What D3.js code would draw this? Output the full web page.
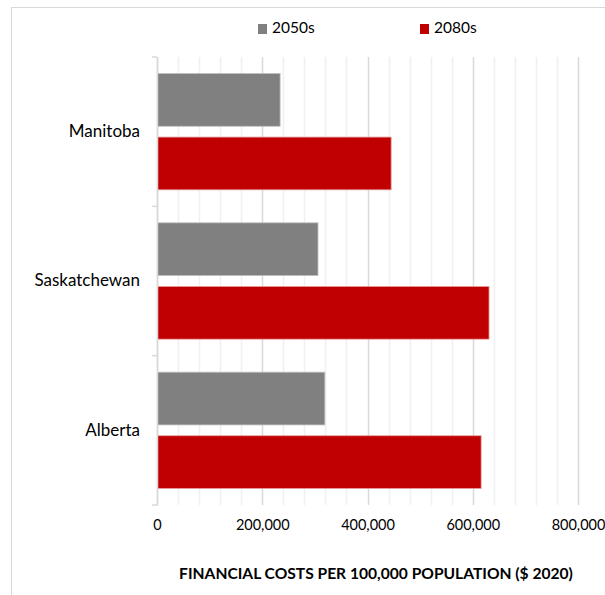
<!doctype html>
<html>
  <head>
    <script src="https://d3js.org/d3.v7.min.js"></script>
    <style>
      body { margin: 0; background: #fff; }
    </style>
  </head>
  <body>
    <script>
    var provinces = ["Manitoba", "Saskatchewan", "Alberta"];
    var series = ["2050s", "2080s"];
    var costs2050s = [233000, 305000, 318000];
    var costs2080s = [444000, 630000, 615000];
    var xTicks = [0, 200000, 400000, 600000, 800000];

    var width = 605;
    var height = 595;

    var margin = {
      top: 57,
      right: 27,
      bottom: 90,
      left: 157
    };

    var innerWidth = width - margin.left - margin.right;
    var innerHeight = height - margin.top - margin.bottom;

    var fontFamily = "Lato, 'Open Sans', sans-serif";

    var data = provinces.map(function(p, i) {
      return {province: p, values: [
        {key: "2050s", value: costs2050s[i]},
        {key: "2080s", value: costs2080s[i]}
      ]};
    });

    var svg = d3.select("body")
              .append("svg")
              .attr("width", width)
              .attr("height", height);

//chart border
    svg
      .append("rect")
      .attr("x", 11.5)
      .attr("y", 7.5)
      .attr("width", width + 20)
      .attr("height", height + 20)
      .attr("fill", "none")
      .attr("stroke", "#d9d9d9");

    var g = svg
            .append("g")
            .attr("transform", "translate(" + margin.left + "," + margin.top + ")");

//Construct scales
    var xScale = d3
                  .scaleLinear()
                  .domain([0, 800000])
                  .range([0, innerWidth]);

    var yScale = d3
                  .scaleBand()
                  .domain(provinces)
                  .range([0, innerHeight]);

    var ySeries = d3
                  .scaleBand()
                  .domain(series)
                  .range([16.5, yScale.bandwidth() - 16.5])
                  .paddingInner(0.17);

    var colorScale = d3.scaleOrdinal()
                      .domain(series)
                      .range(["#808080", "#c00000"]);

    var strokeScale = d3.scaleOrdinal()
                      .domain(series)
                      .range(["#bfbfbf", "#e8a0a0"]);

//gridlines
    g.append("g")
      .selectAll("line")
      .data(d3.range(0, 800001, 40000))
      .enter()
        .append("line")
        .attr("x1", function(d) {return Math.round(xScale(d)) + 0.5;})
        .attr("x2", function(d) {return Math.round(xScale(d)) + 0.5;})
        .attr("y1", 0)
        .attr("y2", innerHeight)
        .attr("stroke", function(d) {return d % 200000 === 0 ? "#d9d9d9" : "#f0f0f0";})
        .attr("stroke-width", 1.5);

//bars
    var groups = g.selectAll(".group")
                .data(data)
                .enter()
                  .append("g")
                  .attr("class", "group")
                  .attr("transform", function(d) {return "translate(0," + yScale(d.province) + ")";});

    groups.selectAll("rect")
      .data(function(d) {return d.values;})
      .enter()
        .append("rect")
        .attr("x", xScale(0) + 0.5)
        .attr("y", function(d) {return ySeries(d.key);})
        .attr("width", function(d) {return xScale(d.value) - xScale(0);})
        .attr("height", ySeries.bandwidth())
        .attr("fill", function(d) {return colorScale(d.key);})
        .attr("stroke", function(d) {return strokeScale(d.key);})
        .attr("stroke-width", 0.8);

//y axis
    var yAxis = d3.axisLeft(yScale)
                  .tickSize(0)
                  .tickPadding(17);

    var yAxisG = g
      .append("g")
      .call(yAxis);

    yAxisG.select(".domain")
      .attr("stroke", "#d9d9d9")
      .attr("stroke-width", 1.5);

    yAxisG.selectAll("text")
      .attr("font-family", fontFamily)
      .style("font-size", "17px")
      .attr("fill", "#000");

    g.append("g")
      .selectAll("line")
      .data([0, innerHeight / 3, innerHeight * 2 / 3, innerHeight])
      .enter()
        .append("line")
        .attr("x1", -5)
        .attr("x2", 0)
        .attr("y1", function(d) {return d;})
        .attr("y2", function(d) {return d;})
        .attr("stroke", "#d9d9d9")
        .attr("stroke-width", 1.5);

//x axis
    var xAxis = d3.axisBottom(xScale)
                  .tickValues(xTicks)
                  .tickSize(0)
                  .tickPadding(15)
                  .tickFormat(d3.format(","));

    var xAxisG = g
      .append("g")
      .attr("transform", "translate(0," + innerHeight + ")")
      .call(xAxis);

    xAxisG.select(".domain").remove();

    xAxisG.selectAll("text")
      .attr("font-family", fontFamily)
      .style("font-size", "14.5px")
      .attr("fill", "#000");

    g
      .append("text")
      .attr("x", 219)
      .attr("y", 518)
      .attr("text-anchor", "middle")
      .attr("dominant-baseline", "middle")
      .attr("font-family", fontFamily)
      .attr("font-weight", "bold")
      .style("font-size", "15.6px")
      .attr("fill", "#000")
      .text("FINANCIAL COSTS PER 100,000 POPULATION ($ 2020)");

//legend
    var legend = svg.append("g")
                  .selectAll("g")
                  .data(series)
                  .enter()
                    .append("g")
                    .attr("transform", function(d, i) {return "translate(" + (258 + i * 162) + ",24)";});

    legend.append("rect")
      .attr("width", 9)
      .attr("height", 10)
      .attr("fill", function(d) {return colorScale(d);});

    legend.append("text")
      .attr("x", 14)
      .attr("y", 5)
      .attr("dominant-baseline", "middle")
      .attr("font-family", fontFamily)
      .style("font-size", "15.5px")
      .attr("fill", "#000")
      .text(function(d) {return d;});
    </script>
  </body>
</html>
